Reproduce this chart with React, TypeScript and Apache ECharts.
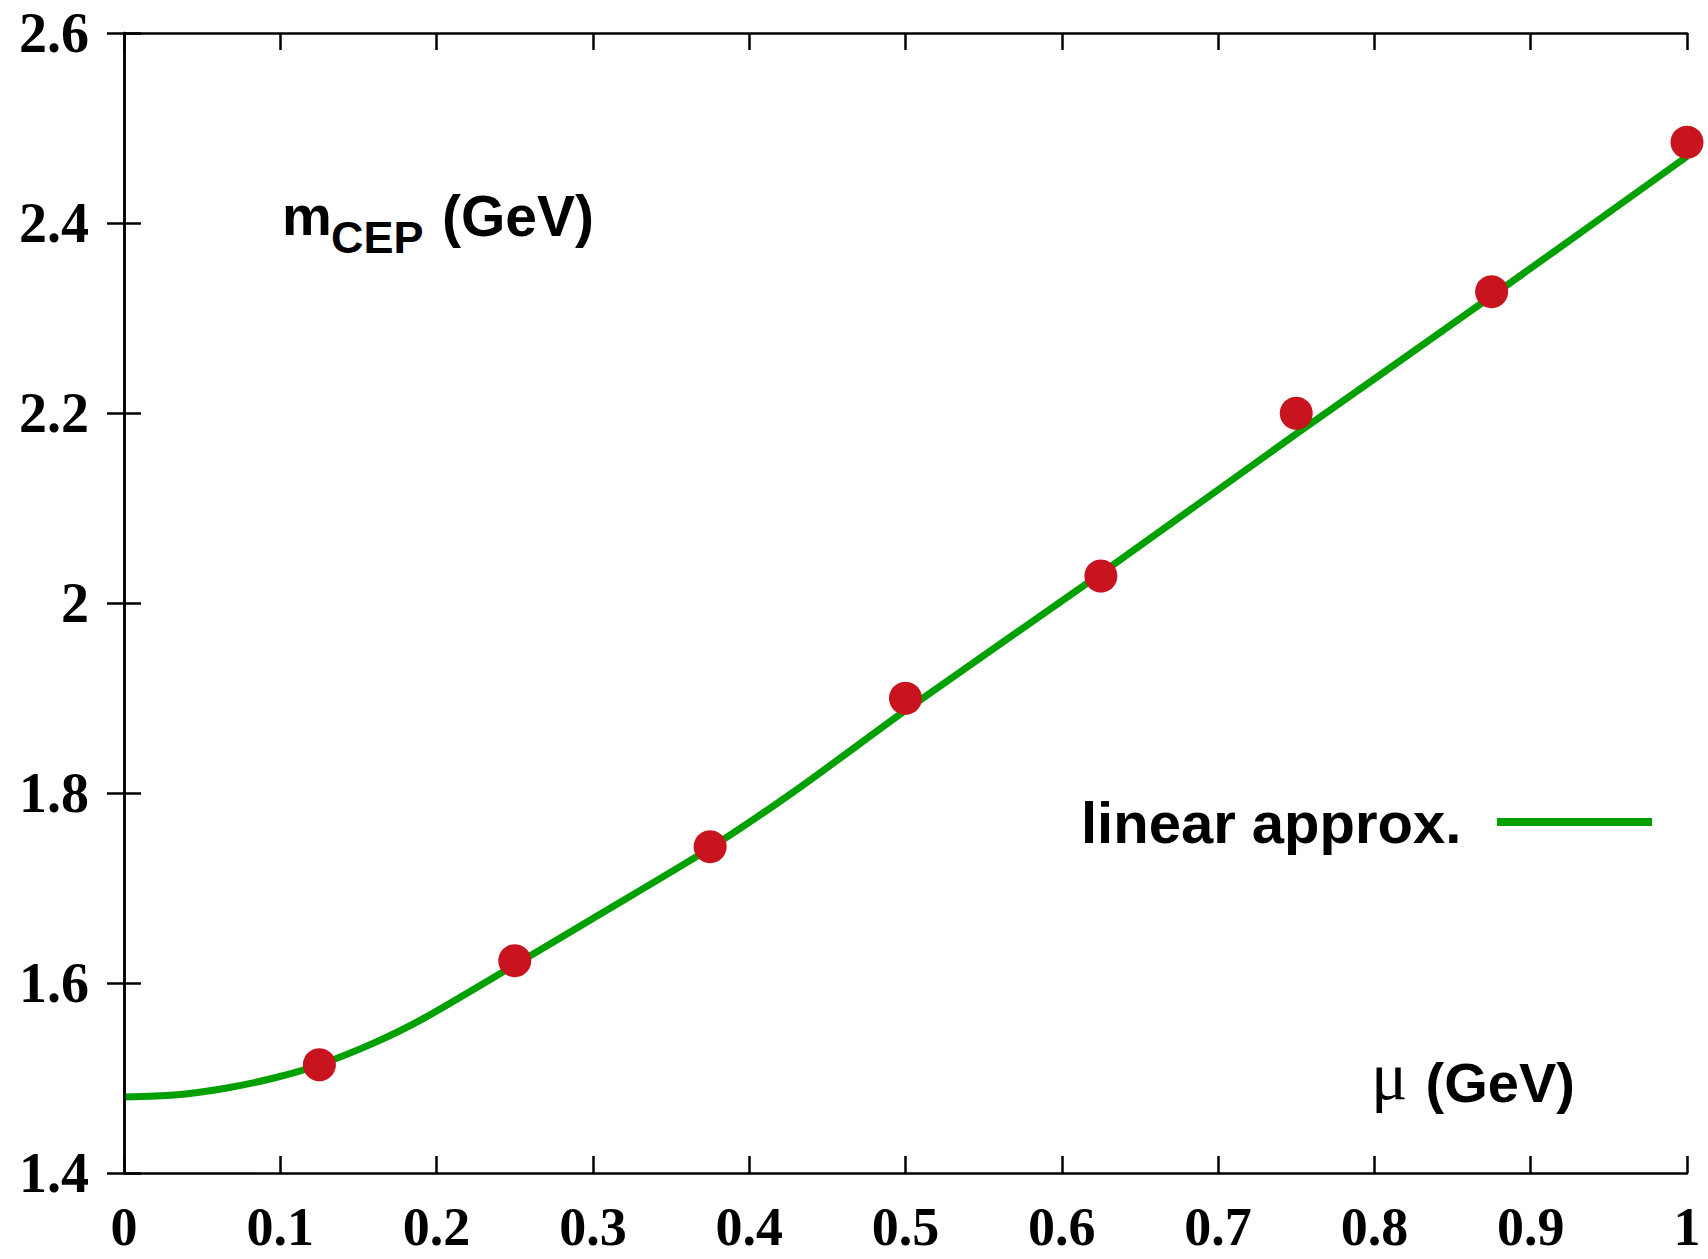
import React, { useEffect, useRef } from "react";
import * as echarts from "echarts";

// Chemical potential of data points (GeV)
const pointMu = [0.125, 0.25, 0.375, 0.5, 0.625, 0.75, 0.875, 1.0];
// m_CEP at those points (GeV)
const pointM = [1.514, 1.6235, 1.7435, 1.8997, 2.0284, 2.1997, 2.3277, 2.485];

// "linear approx." curve
const curveMu = [0, 0.032, 0.064, 0.096, 0.125, 0.16, 0.192, 0.25, 0.3, 0.375, 0.4325, 0.5, 0.625, 0.75, 0.875, 1.0];
const curveM = [1.48, 1.482, 1.489, 1.5, 1.514, 1.537, 1.563, 1.619, 1.668, 1.742, 1.806, 1.887, 2.031, 2.178, 2.323, 2.47];

const xMin = 0;
const xMax = 1;
const xStep = 0.1;
const yMin = 1.4;
const yMax = 2.6;
const yStep = 0.2;

const legendLabel = "linear approx.";
const yTitleMain = "m";
const yTitleSub = "CEP";
const yTitleUnit = "(GeV)";
const xTitleSymbol = "μ";
const xTitleUnit = " (GeV)";

const GREEN = "#00a000";
const RED = "#c8141e";
const SERIF = "'Liberation Serif', 'Times New Roman', serif";
const SANS = "'Liberation Sans', Arial, Helvetica, sans-serif";

export default function App() {
  const ref = useRef<HTMLDivElement>(null);

  useEffect(() => {
    if (!ref.current) return;
    const chart = echarts.init(ref.current, undefined, { renderer: "svg" });

    const axisLine = { show: true, lineStyle: { color: "#000", width: 2.5 } };
    const axisTick = { show: true, inside: true, length: 17, lineStyle: { color: "#000", width: 2.5 } };
    const labelStyle = {
      fontFamily: SERIF,
      fontWeight: "bold" as const,
      fontSize: 56,
      lineHeight: 48,
      color: "#000",
    };

    chart.setOption({
      animation: false,
      backgroundColor: "#fff",
      grid: { left: 124, right: 21, top: 33, bottom: 86, containLabel: false },
      xAxis: [
        {
          type: "value",
          min: xMin,
          max: xMax,
          interval: xStep,
          axisLine,
          axisTick,
          splitLine: { show: false },
          axisLabel: { ...labelStyle, fontSize: 54, margin: 30, showMinLabel: true, showMaxLabel: true },
        },
        {
          type: "value",
          position: "top",
          min: xMin,
          max: xMax,
          interval: xStep,
          axisLine,
          axisTick,
          splitLine: { show: false },
          axisLabel: { show: false },
        },
      ],
      yAxis: [
        {
          type: "value",
          min: yMin,
          max: yMax,
          interval: yStep,
          axisLine,
          axisTick,
          splitLine: { show: false },
          axisLabel: { ...labelStyle, margin: 35, showMinLabel: true, showMaxLabel: true },
        },
        {
          type: "value",
          position: "right",
          min: yMin,
          max: yMax,
          interval: yStep,
          z: 5,
          axisLine,
          axisTick,
          splitLine: { show: false },
          axisLabel: { show: false },
        },
      ],
      series: [
        {
          name: legendLabel,
          type: "line",
          data: curveMu.map((x, i) => [x, curveM[i]]),
          showSymbol: false,
          smooth: 0.25,
          lineStyle: { color: GREEN, width: 7 },
          itemStyle: { color: GREEN },
          z: 2,
        },
        {
          name: "data",
          type: "scatter",
          data: pointMu.map((x, i) => [x, pointM[i]]),
          symbol: "circle",
          symbolSize: 33,
          itemStyle: { color: RED, opacity: 1 },
          clip: false,
          z: 3,
        },
      ],
      graphic: [
        {
          type: "text",
          left: 282,
          top: 187,
          style: { text: yTitleMain, font: `bold 56px ${SANS}`, fill: "#000" },
        },
        {
          type: "text",
          left: 331,
          top: 215,
          style: { text: yTitleSub, font: `bold 45px ${SANS}`, fill: "#000" },
        },
        {
          type: "text",
          left: 442,
          top: 187,
          style: { text: yTitleUnit, font: `bold 57px ${SANS}`, fill: "#000" },
        },
        {
          type: "text",
          left: 1371,
          top: 1042,
          style: { text: xTitleSymbol, font: `68px ${SERIF}`, fill: "#000" },
        },
        {
          type: "text",
          left: 1410,
          top: 1054,
          style: { text: xTitleUnit, font: `bold 56px ${SANS}`, fill: "#000" },
        },
        {
          type: "text",
          left: 1081,
          top: 793,
          style: { text: legendLabel, font: `bold 58px ${SANS}`, fill: "#000" },
        },
        {
          type: "line",
          shape: { x1: 1497, y1: 822, x2: 1652, y2: 822 },
          style: { stroke: GREEN, lineWidth: 8 },
        },
      ],
    });

    return () => chart.dispose();
  }, []);

  return (
    <div
      ref={ref}
      style={{ position: "fixed", left: 0, top: 0, width: 1708, height: 1259, background: "#fff" }}
    />
  );
}
